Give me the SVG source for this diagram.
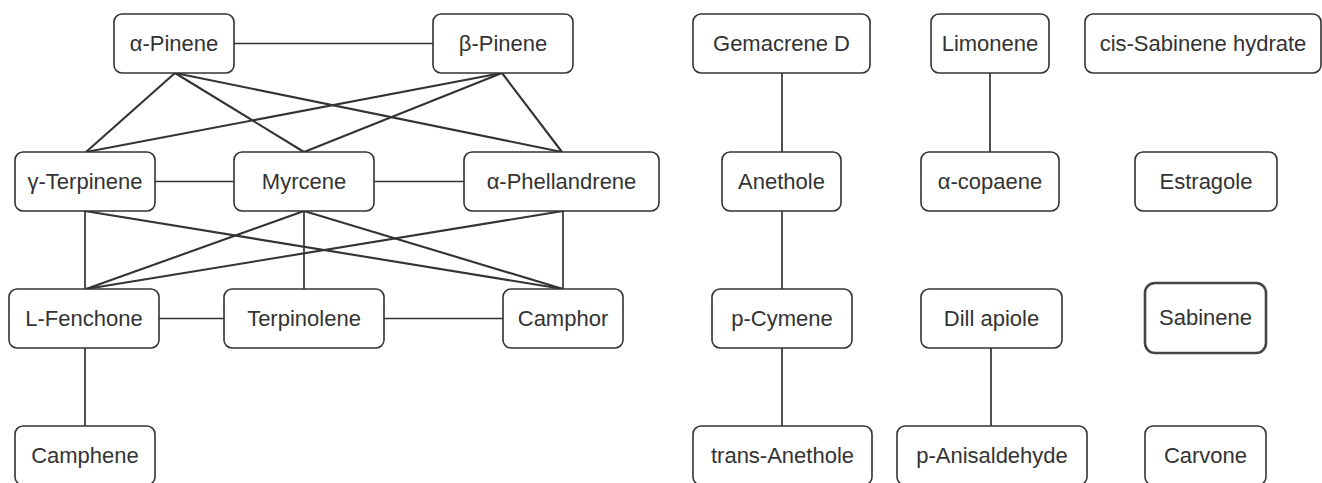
<svg xmlns="http://www.w3.org/2000/svg" width="1322" height="483" viewBox="0 0 1322 483">
<style>
.n rect{fill:#fff;stroke:#333;stroke-width:1.6}
.n text{font-family:"Liberation Sans",Arial,sans-serif;font-size:22px;fill:#333;text-anchor:middle}
.e line{stroke:#333;stroke-width:1.7}
.e line.d{stroke-width:2.1}
.thick rect{stroke-width:2.6;stroke:#444}
</style>
<rect width="1322" height="483" fill="#fff"/>
<g class="e">
<line x1="234" y1="43.5" x2="433" y2="43.5"/>
<line class="d" x1="175" y1="73" x2="86" y2="152"/>
<line class="d" x1="175" y1="73" x2="304" y2="152"/>
<line class="d" x1="175" y1="73" x2="562" y2="152"/>
<line class="d" x1="502" y1="73" x2="86" y2="152"/>
<line class="d" x1="502" y1="73" x2="304" y2="152"/>
<line class="d" x1="502" y1="73" x2="562" y2="152"/>
<line x1="155" y1="181.5" x2="234" y2="181.5"/>
<line x1="374" y1="181.5" x2="464" y2="181.5"/>
<line x1="85" y1="211" x2="85" y2="289"/>
<line class="d" x1="85" y1="211" x2="563" y2="289"/>
<line class="d" x1="304" y1="211" x2="86" y2="289"/>
<line x1="304" y1="211" x2="304" y2="289"/>
<line class="d" x1="304" y1="211" x2="563" y2="289"/>
<line class="d" x1="563" y1="211" x2="86" y2="289"/>
<line x1="563" y1="211" x2="563" y2="289"/>
<line x1="159" y1="318.5" x2="224" y2="318.5"/>
<line x1="384" y1="318.5" x2="503" y2="318.5"/>
<line x1="85" y1="348" x2="85" y2="426"/>
<line x1="782" y1="73" x2="782" y2="152"/>
<line x1="782" y1="211" x2="782" y2="289"/>
<line x1="782" y1="348" x2="782" y2="426"/>
<line x1="990" y1="73" x2="990" y2="152"/>
<line x1="991" y1="348" x2="991" y2="426"/>
</g>
<g id="alpha-pinene" class="n"><rect x="114" y="14" width="120" height="59" rx="8"/><text x="174" y="51">α-Pinene</text></g>
<g id="beta-pinene" class="n"><rect x="433" y="14" width="140" height="59" rx="8"/><text x="503" y="51">β-Pinene</text></g>
<g id="gamma-terpinene" class="n"><rect x="15" y="152" width="140" height="59" rx="8"/><text x="85" y="189">γ-Terpinene</text></g>
<g id="myrcene" class="n"><rect x="234" y="152" width="140" height="59" rx="8"/><text x="304" y="189">Myrcene</text></g>
<g id="alpha-phellandrene" class="n"><rect x="464" y="152" width="195" height="59" rx="8"/><text x="561.5" y="189">α-Phellandrene</text></g>
<g id="l-fenchone" class="n"><rect x="9" y="289" width="150" height="59" rx="8"/><text x="84" y="326">L-Fenchone</text></g>
<g id="terpinolene" class="n"><rect x="224" y="289" width="160" height="59" rx="8"/><text x="304" y="326">Terpinolene</text></g>
<g id="camphor" class="n"><rect x="503" y="289" width="120" height="59" rx="8"/><text x="563" y="326">Camphor</text></g>
<g id="camphene" class="n"><rect x="15" y="426" width="140" height="59" rx="8"/><text x="85" y="463">Camphene</text></g>
<g id="gemacrene-d" class="n"><rect x="693" y="14" width="177" height="59" rx="8"/><text x="781.5" y="51">Gemacrene D</text></g>
<g id="limonene" class="n"><rect x="931" y="14" width="118" height="59" rx="8"/><text x="990" y="51">Limonene</text></g>
<g id="cis-sabinene-hydrate" class="n"><rect x="1085" y="14" width="236" height="59" rx="8"/><text x="1203" y="51">cis-Sabinene hydrate</text></g>
<g id="anethole" class="n"><rect x="722" y="152" width="119" height="59" rx="8"/><text x="781.5" y="189">Anethole</text></g>
<g id="alpha-copaene" class="n"><rect x="921" y="152" width="138" height="59" rx="8"/><text x="990" y="189">α-copaene</text></g>
<g id="estragole" class="n"><rect x="1135" y="152" width="142" height="59" rx="8"/><text x="1206" y="189">Estragole</text></g>
<g id="p-cymene" class="n"><rect x="712" y="289" width="140" height="59" rx="8"/><text x="782" y="326">p-Cymene</text></g>
<g id="dill-apiole" class="n"><rect x="921" y="289" width="141" height="59" rx="8"/><text x="991.5" y="326">Dill apiole</text></g>
<g id="sabinene" class="n thick"><rect x="1145" y="283" width="121" height="70" rx="10"/><text x="1205.5" y="325">Sabinene</text></g>
<g id="trans-anethole" class="n"><rect x="693" y="426" width="179" height="59" rx="8"/><text x="782.5" y="463">trans-Anethole</text></g>
<g id="p-anisaldehyde" class="n"><rect x="897" y="426" width="190" height="59" rx="8"/><text x="992" y="463">p-Anisaldehyde</text></g>
<g id="carvone" class="n"><rect x="1145" y="426" width="121" height="59" rx="8"/><text x="1205.5" y="463">Carvone</text></g>
</svg>
